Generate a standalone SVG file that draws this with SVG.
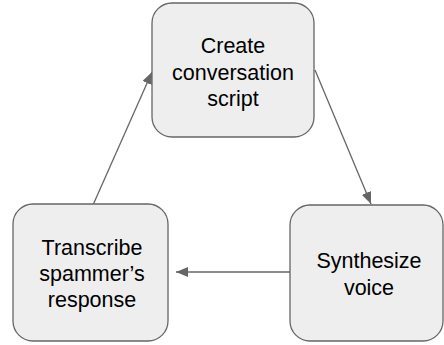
<svg xmlns="http://www.w3.org/2000/svg" width="444" height="345" viewBox="0 0 444 345">
<defs>
<marker id="ah" viewBox="0 0 12 10" refX="12" refY="5" markerWidth="12" markerHeight="10" markerUnits="userSpaceOnUse" orient="auto">
<path d="M0,0 L12,5 L0,10 Z" fill="#666666"/>
</marker>
<style>
.box{fill:#eeeeee;stroke:#666666;stroke-width:1.3}
.lbl{font-family:"Liberation Sans",Arial,sans-serif;font-size:21.5px;fill:#000000;text-anchor:middle}
.edge{stroke:#666666;stroke-width:1.3;fill:none;marker-end:url(#ah)}
</style>
</defs>
<rect width="444" height="345" fill="#ffffff"/>
<g id="edges">
<line class="edge" x1="315" y1="70" x2="371" y2="204"/>
<line class="edge" x1="290" y1="272" x2="176" y2="272"/>
<line class="edge" x1="93" y1="205" x2="152" y2="72"/>
</g>
<g id="create">
<rect class="box" x="152" y="3" width="162" height="134" rx="20" ry="20"/>
<text class="lbl" x="233" y="53">Create</text>
<text class="lbl" x="233" y="80">conversation</text>
<text class="lbl" x="233" y="106">script</text>
</g>
<g id="synthesize">
<rect class="box" x="290" y="205" width="153" height="136" rx="20" ry="20"/>
<text class="lbl" x="369" y="268">Synthesize</text>
<text class="lbl" x="369" y="295">voice</text>
</g>
<g id="transcribe">
<rect class="box" x="13" y="204" width="155" height="137" rx="20" ry="20"/>
<text class="lbl" x="92" y="255">Transcribe</text>
<text class="lbl" x="92" y="281">spammer’s</text>
<text class="lbl" x="92" y="307">response</text>
</g>
</svg>
